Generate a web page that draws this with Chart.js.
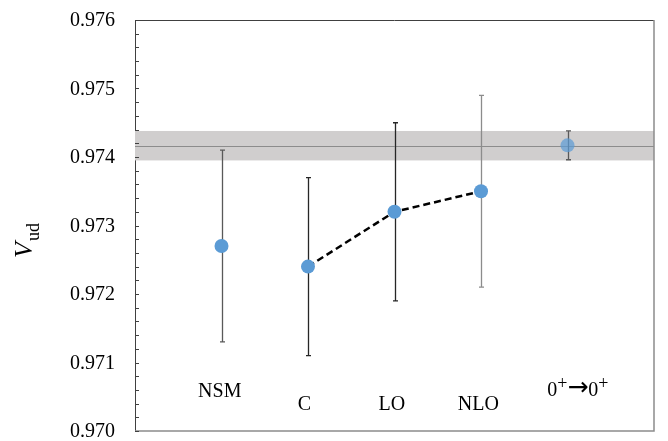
<!DOCTYPE html>
<html>
<head>
<meta charset="utf-8">
<script src="https://cdn.jsdelivr.net/npm/chart.js@4"></script>
<style>
  html, body { margin: 0; padding: 0; background: #fff; }
</style>
</head>
<body>
<canvas id="myChart" width="668" height="441"></canvas>
<script>
// values
const categories = ['NSM', 'C', 'LO', 'NLO', '0\u207A\u21920\u207A'];
const vud = [0.9727, 0.9724, 0.9732, 0.9735, 0.97417];
const vudErr = [0.0014, 0.0013, 0.0013, 0.0014, 0.00021];
const bandRange = [0.97395, 0.97438];
const bandMid = 0.97416;
const yMin = 0.970, yMax = 0.976, yStep = 0.001, yMinorStep = 0.0002;

// where the category names sit (x in category units, y in axis units)
const labelX = [0.98, 1.96, 2.97, 3.97, 5.12];
const labelY = [0.97049, 0.97031, 0.97031, 0.97031, 0.97051];
const barColors = ['#595959', '#262626', '#262626', '#8c8c8c', '#595959'];

const serif = '"Liberation Serif", "DejaVu Serif", serif';
const pt = (i) => ({ x: i + 1, y: vud[i] });

// "0+->0+" drawn piece by piece so the + signs are raised and the arrow is long
function drawTransition(ctx, text, cx, base) {
  const parts = [];
  for (const ch of text) {
    if (ch === '\u207A') parts.push({ t: '+', font: '18px ' + serif, dy: -7 });
    else if (ch === '\u2192') parts.push({ t: '\u2192', font: '25px "DejaVu Sans"', dy: -1 });
    else parts.push({ t: ch, font: '20px ' + serif, dy: 0 });
  }
  let total = 0;
  parts.forEach((p) => { ctx.font = p.font; p.w = ctx.measureText(p.t).width; total += p.w; });
  let px = cx - total / 2;
  ctx.textAlign = 'left';
  parts.forEach((p) => {
    ctx.font = p.font;
    ctx.fillText(p.t, px, base + p.dy);
    px += p.w;
  });
}

const decorPlugin = {
  id: 'decor',
  beforeDatasetsDraw(chart) {
    const { ctx, chartArea, scales: { x, y } } = chart;
    ctx.save();
    // grey band of the 0+ -> 0+ average
    ctx.fillStyle = '#d0cece';
    const bt = y.getPixelForValue(bandRange[1]);
    const bb = y.getPixelForValue(bandRange[0]);
    ctx.fillRect(chartArea.left, bt, chartArea.right - chartArea.left, bb - bt);
    ctx.strokeStyle = '#8c8c8c';
    ctx.lineWidth = 1;
    ctx.beginPath();
    const bm = Math.round(y.getPixelForValue(bandMid)) + 0.5;
    ctx.moveTo(chartArea.left, bm);
    ctx.lineTo(chartArea.right, bm);
    ctx.stroke();
    // error bars
    vud.forEach((v, i) => {
      const px = Math.round(x.getPixelForValue(i + 1)) + 0.5;
      const top = y.getPixelForValue(v + vudErr[i]);
      const bot = y.getPixelForValue(v - vudErr[i]);
      ctx.strokeStyle = barColors[i];
      ctx.lineWidth = 1.3;
      ctx.beginPath();
      ctx.moveTo(px, top);
      ctx.lineTo(px, bot);
      ctx.moveTo(px - 2.5, top);
      ctx.lineTo(px + 2.5, top);
      ctx.moveTo(px - 2.5, bot);
      ctx.lineTo(px + 2.5, bot);
      ctx.stroke();
    });
    ctx.restore();
  },
  afterDraw(chart) {
    const { ctx, chartArea, scales: { x, y } } = chart;
    ctx.save();
    // frame
    ctx.lineWidth = 1;
    ctx.strokeStyle = '#404040';
    ctx.beginPath();
    ctx.moveTo(chartArea.left, chartArea.top + 0.5);
    ctx.lineTo(chartArea.right, chartArea.top + 0.5);
    ctx.stroke();
    ctx.strokeStyle = '#8c8c8c';
    ctx.lineWidth = 1.5;
    ctx.beginPath();
    ctx.moveTo(chartArea.right, chartArea.top);
    ctx.lineTo(chartArea.right, chartArea.bottom);
    ctx.lineTo(chartArea.left, chartArea.bottom);
    ctx.stroke();
    // inward ticks, major and minor
    ctx.strokeStyle = '#404040';
    ctx.lineWidth = 1;
    ctx.beginPath();
    const n = Math.round((yMax - yMin) / yMinorStep);
    for (let i = 0; i <= n; i++) {
      const py = Math.round(y.getPixelForValue(yMin + i * yMinorStep)) + 0.5;
      ctx.moveTo(chartArea.left, py);
      ctx.lineTo(chartArea.left + 4, py);
    }
    ctx.stroke();
    // tick labels
    ctx.fillStyle = '#000';
    ctx.font = '20px ' + serif;
    ctx.textAlign = 'right';
    ctx.textBaseline = 'middle';
    y.ticks.forEach((t) => {
      ctx.fillText(Number(t.value).toFixed(3), chartArea.left - 20, y.getPixelForValue(t.value) + 1);
    });
    // category names
    ctx.textAlign = 'center';
    ctx.textBaseline = 'alphabetic';
    categories.forEach((c, i) => {
      const px = x.getPixelForValue(labelX[i]);
      const py = y.getPixelForValue(labelY[i]);
      if (c.includes('\u2192')) drawTransition(ctx, c, px, py);
      else ctx.fillText(c, px, py);
      ctx.textAlign = 'center';
      ctx.font = '20px ' + serif;
    });
    // axis title V_ud
    ctx.translate(32, 258);
    ctx.rotate(-Math.PI / 2);
    ctx.textAlign = 'left';
    ctx.font = 'italic 26px ' + serif;
    ctx.fillText('V', 0, 0);
    const w = ctx.measureText('V').width;
    ctx.font = '18px ' + serif;
    ctx.fillText('ud', w + 1, 7);
    ctx.restore();
  }
};

const ctx = document.getElementById('myChart');
new Chart(ctx, {
  type: 'scatter',
  data: {
    datasets: [
      {
        data: [pt(0)],
        backgroundColor: '#5b9bd5',
        borderWidth: 0,
        pointRadius: 7,
      },
      {
        data: [pt(1), pt(2), pt(3)],
        showLine: true,
        borderColor: '#000',
        borderWidth: 2.5,
        borderDash: [7, 4],
        backgroundColor: '#5b9bd5',
        pointBorderWidth: 0,
        pointRadius: 7,
      },
      {
        data: [pt(4)],
        backgroundColor: 'rgba(91,155,213,0.7)',
        borderWidth: 0,
        pointRadius: 7,
      },
    ],
  },
  options: {
    responsive: false,
    animation: false,
    layout: { padding: { left: 0, right: 14, top: 20, bottom: 10 } },
    plugins: {
      legend: { display: false },
      tooltip: { enabled: false },
    },
    scales: {
      x: {
        type: 'linear',
        min: 0,
        max: 6,
        display: false,
      },
      y: {
        min: yMin,
        max: yMax,
        afterFit(scale) { scale.width = 135; },
        grid: { display: false, drawTicks: false },
        border: { display: true, color: '#404040', width: 1 },
        ticks: { stepSize: yStep, display: false },
      },
    },
  },
  plugins: [decorPlugin],
});
</script>
</body>
</html>
